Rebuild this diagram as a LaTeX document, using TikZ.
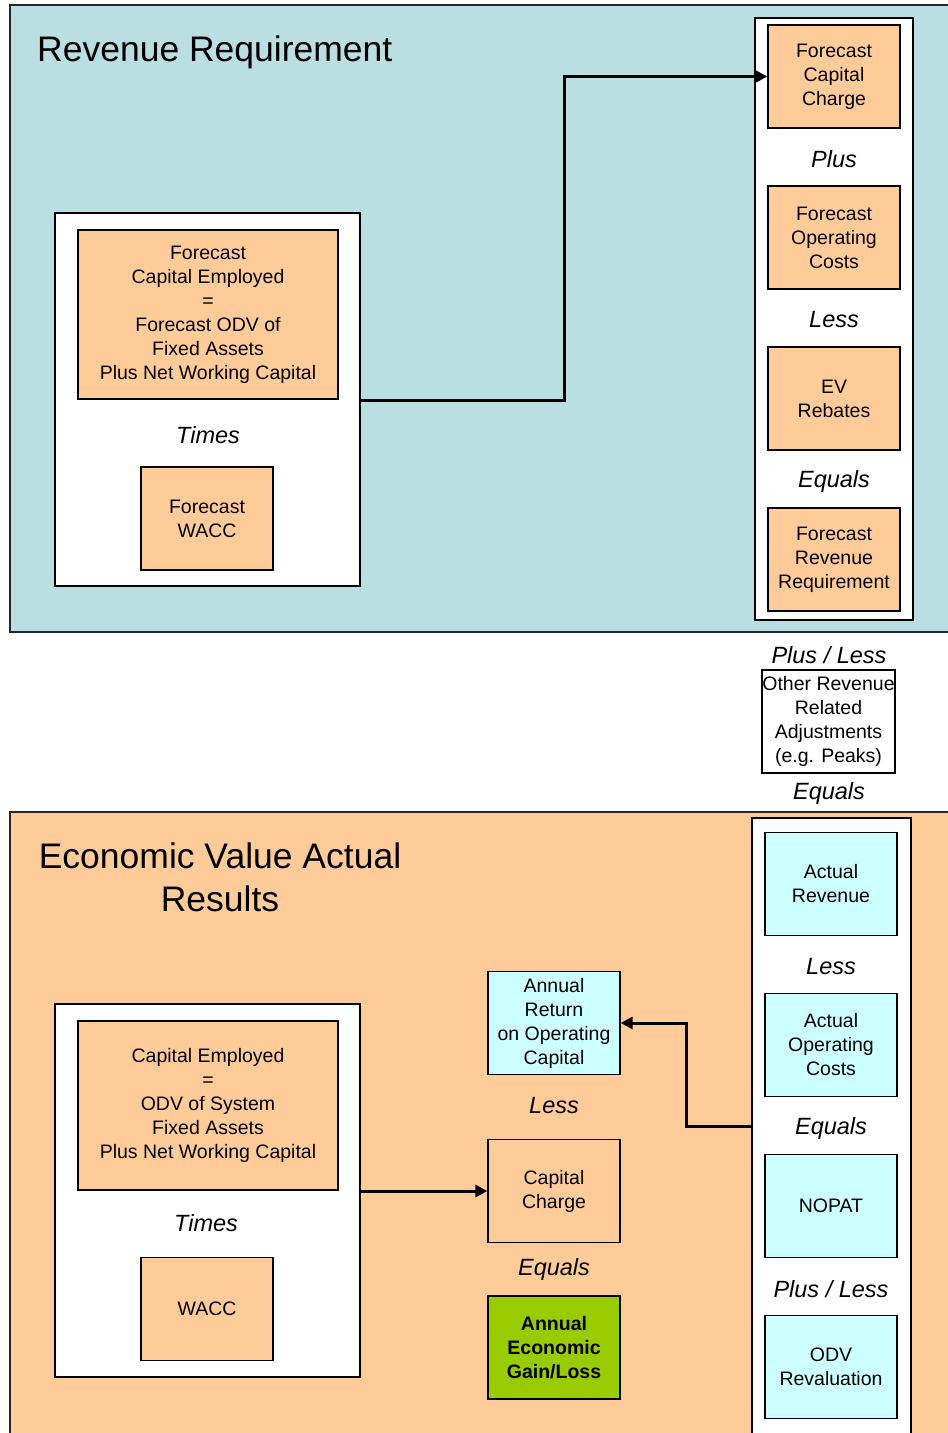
\documentclass[tikz,border=0pt]{standalone}
\usepackage{fontspec}
\setmainfont{Liberation Sans}
\usetikzlibrary{arrows.meta}
\definecolor{revbg}{HTML}{BADFE3}
\definecolor{orangebox}{HTML}{FFCC99}
\definecolor{cyanbox}{HTML}{CCFFFF}
\definecolor{greenbox}{HTML}{99CC00}
\tikzset{
  panel/.style={line width=1.4pt, draw=black!85},
  whitebox/.style={draw=black, fill=white, line width=1.4pt},
  cbox/.style={draw=black, line width=1.3pt, align=center, inner sep=0pt,
    minimum width=132pt, minimum height=103pt,
    font=\fontsize{19.5}{24}\selectfont},
  obox/.style={cbox, fill=orangebox},
  bbox/.style={cbox, fill=cyanbox},
  opword/.style={font=\itshape\fontsize{23.5}{28}\selectfont, inner sep=0pt},
  title/.style={font=\fontsize{35.5}{43}\selectfont, inner sep=0pt, align=center},
  conn/.style={line width=3pt, -{Triangle[length=12pt,width=12pt]}, line join=miter}
}
\begin{document}
\begin{tikzpicture}[x=1pt,y=-1pt]
\useasboundingbox (0,0) rectangle (948,1433);
% ---------- top panel ----------
\fill[revbg] (10,5) rectangle (948,632);
\draw[panel] (948,5) -- (10,5) -- (10,632) -- (948,632);
\node[title, anchor=west] (t1) at (37,52) {Revenue Requirement};

\draw[whitebox] (55,213) rectangle (360,586);
\coordinate (lw1r) at (360,400);
\node[obox, minimum width=260pt, minimum height=169pt] (fce) at (208,314.5)
  {Forecast\\Capital Employed\\=\\Forecast ODV of\\Fixed Assets\\Plus Net Working Capital};
\node[opword] (times1) at (208,435) {Times};
\node[obox] (fwacc) at (207,518.5) {Forecast\\WACC};

\draw[whitebox] (755,18) rectangle (913,620);
\node[obox] (fcc) at (834,76.5) {Forecast\\Capital\\Charge};
\node[opword] (plus1) at (834,159) {Plus};
\node[obox] (foc) at (834,237.5) {Forecast\\Operating\\Costs};
\node[opword] (less1) at (834,320) {Less};
\node[obox] (evr) at (834,398.5) {EV\\Rebates};
\node[opword] (eq1) at (834,481) {Equals};
\node[obox] (frr) at (834,559.5) {Forecast\\Revenue\\Requirement};

\draw[conn] (lw1r) -- (564,400) |- (fcc.west);

% ---------- middle ----------
\node[opword] (pl2) at (829,655) {Plus / Less};
\node[draw=black, fill=white, line width=1.3pt, minimum width=133pt, minimum height=103pt,
  inner sep=0pt, align=center, font=\fontsize{19.5}{24}\selectfont] (orra) at (828.5,721.5)
  {Other Revenue\\Related\\Adjustments\\(e.g. Peaks)};
\node[opword] (eq2) at (829,793) {Equals};

% ---------- bottom panel ----------
\fill[orangebox] (10,812) rectangle (948,1433);
\draw[panel] (948,812) -- (10,812) -- (10,1433);
\node[title] (t2) at (220,877) {Economic Value Actual\\Results};

\draw[whitebox] (55,1004) rectangle (360,1377);
\node[obox, minimum width=260pt, minimum height=169pt] (ce) at (208,1105.5)
  {Capital Employed\\=\\ODV of System\\Fixed Assets\\Plus Net Working Capital};
\node[opword] (times2) at (206,1223) {Times};
\node[obox] (wacc) at (207,1309) {WACC};

\node[bbox] (aroc) at (554,1023) {Annual\\Return\\on Operating\\Capital};
\node[opword] (less2) at (554,1106) {Less};
\node[obox] (cc) at (554,1191) {Capital\\Charge};
\node[opword] (eq3) at (554,1269) {Equals};
\node[cbox, fill=greenbox, font=\bfseries\fontsize{19.5}{24}\selectfont] (aegl) at (554,1347.5)
  {Annual\\Economic\\Gain/Loss};

\draw[whitebox] (752,1440) -- (752,818) -- (911,818) -- (911,1440);
\coordinate (rc2l) at (752,1126);
\node[bbox] (ar) at (831,884) {Actual\\Revenue};
\node[opword] (less3) at (831,967) {Less};
\node[bbox] (aoc) at (831,1045) {Actual\\Operating\\Costs};
\node[opword] (eq4) at (831,1128) {Equals};
\node[bbox] (nopat) at (831,1206) {NOPAT};
\node[opword] (pl3) at (831,1289) {Plus / Less};
\node[bbox] (odv) at (831,1367) {ODV\\Revaluation};

\draw[conn] (rc2l) -- (686,1126) |- (aroc.east);
\draw[conn] (360,1191) -- (cc.west);
\end{tikzpicture}
\end{document}
